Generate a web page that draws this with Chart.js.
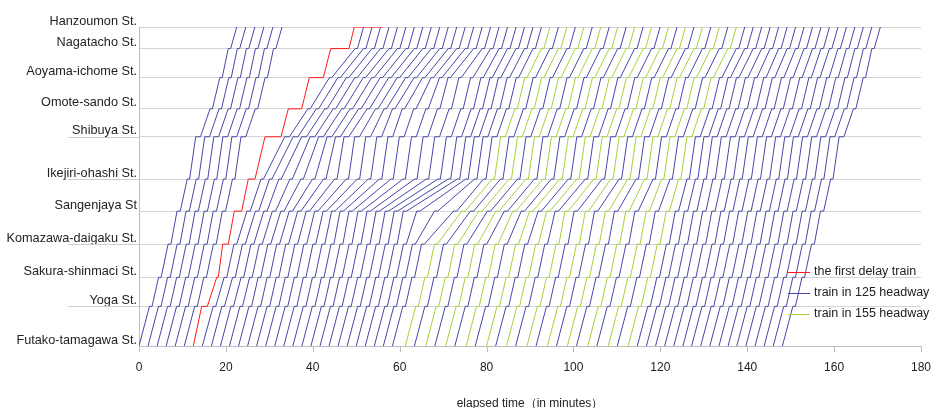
<!DOCTYPE html>
<html>
<head>
<meta charset="utf-8">
<script src="https://cdn.jsdelivr.net/npm/chart.js@4.4.1/dist/chart.umd.min.js"></script>
<style>
  html, body { margin: 0; padding: 0; background: #fff; }
  #wrap { width: 931px; height: 408px; }
</style>
</head>
<body>
<div id="wrap"><canvas id="diagram"></canvas></div>
<script>
// stations from the bottom of the diagram to the top, with distance in km
const stations = ['Futako-tamagawa St.', 'Yoga St.', 'Sakura-shinmaci St.', 'Komazawa-daigaku St.',
  'Sangenjaya St', 'Ikejiri-ohashi St.', 'Shibuya St.', 'Omote-sando St.', 'Aoyama-ichome St.',
  'Nagatacho St.', 'Hanzoumon St.'];
const stationKm = [0, 1.8, 3.12, 4.63, 6.13, 7.59, 9.51, 10.78, 12.2, 13.52, 14.5];
const longTickStations = ['Yoga St.', 'Komazawa-daigaku St.', 'Ikejiri-ohashi St.', 'Shibuya St.'];

// normal running time into each station and dwell time at it (minutes)
const runMin = [0, 2.4, 1.5, 1.6, 1.4, 1.6, 1.4, 2.2, 1.7, 1.4, 1.4];
const dwellMin = [0, 0.6, 0.6, 0.65, 0.75, 0.55, 1.1, 0.55, 0.55, 0.55, 0];
// shortest time between one train leaving a station and the next one arriving
const minGap = [0, 1.35, 1.35, 1.3, 1.2, 1.4, 0.85, 1.4, 1.4, 1.4, 1.95];

// departures from Futako-tamagawa (minutes) and kind of each train
const departures = [0, 2.08, 4.17, 6.25, 8.33, 10.42, 12.5, 14.58, 16.67, 18.75, 20.83, 22.92,
  25.0, 27.08, 29.17, 31.25, 33.33, 35.42, 37.5, 39.58, 41.67, 43.75, 45.83, 47.92, 50.0, 52.08,
  54.17, 56.25, 58.33, 61.3, 63.4, 66.0, 68.1, 70.6, 72.7, 75.3, 77.4, 80.0, 82.1, 84.6,
  86.7, 89.3, 91.4, 94.0, 96.1, 98.6, 100.7, 103.3, 105.4, 108.0, 110.1, 112.6, 114.7,
  116.8, 118.9, 121.0, 123.1, 125.2, 127.2, 129.3, 131.4, 133.5, 135.6, 137.6, 139.7,
  141.8, 143.9, 146.0, 148.1];
const trainKind = ['b', 'b', 'b', 'b', 'b', 'b', 'r', 'b', 'b', 'b', 'b', 'b',
  'b', 'b', 'b', 'b', 'b', 'b', 'b', 'b', 'b', 'b', 'b', 'b', 'b', 'b',
  'b', 'b', 'b', 'g', 'b', 'g', 'b', 'g', 'b', 'g', 'b', 'g', 'b', 'g',
  'b', 'g', 'b', 'g', 'b', 'g', 'b', 'g', 'b', 'g', 'b', 'g', 'b',
  'b', 'b', 'b', 'b', 'b', 'b', 'b', 'b', 'b', 'b', 'b', 'b',
  'b', 'b', 'b', 'b'];
// extra minutes spent crawling into Sangenjaya and into Ikejiri-ohashi, per train
const holdKomazawa = [0, 0, 0, 0, 0, 0, 0, 0, 0, 0, 0, 0,
  0, 0, 0, 0, 0, 0, 0, 0, 0, 0, 0, 0, 0, 0,
  1.0, 3.0, 5.3, 3.6, 3.4, 2.8, 2.0, 1.2, 0.5, 0, 0, 0, 0, 0,
  0, 0, 0, 0, 0, 0, 0, 0, 0, 0, 0, 0, 0,
  0, 0, 0, 0, 0, 0, 0, 0, 0, 0, 0, 0, 0, 0, 0, 0];
const holdSangenjaya = [0, 0, 0, 0, 0, 0, 0, 0, 0.5, 1.1, 1.7, 2.3,
  3.0, 3.6, 4.2, 4.9, 5.5, 6.1, 6.7, 7.3, 8.0, 8.6, 9.2, 9.8, 10.1, 10.1,
  8.9, 6.9, 4.6, 0, 0, 0, 0, 0, 0, 0, 0, 0, 0, 0,
  0, 0, 0, 0, 0, 0, 0, 0, 0, 0, 0, 0, 0,
  0, 0, 0, 0, 0, 0, 0, 0, 0, 0, 0, 0, 0, 0, 0, 0];

// the first delay train, read station by station
const redArrive = [12.5, 14.43, 17.89, 19.27, 21.94, 25.16, 29.0, 34.37, 39.2, 44.13, 49.56];
const redDepart = [12.5, 15.72, 18.25, 20.56, 23.64, 26.7, 32.69, 37.45, 42.43, 48.34, 56.2];

const xTicks = [0, 20, 40, 60, 80, 100, 120, 140, 160, 180];
const legendLabels = ['the first delay train', 'train in 125 headway', 'train in 155 headway'];
const kindColor = { r: '#ff1a1a', b: '#4646a8', g: '#a6d23c' };

function buildTrains() {
  const out = [];
  const last = stations.length - 1;
  const sangenjaya = stations.indexOf('Sangenjaya St');
  const ikejiri = stations.indexOf('Ikejiri-ohashi St.');
  let prev = null;
  departures.forEach((t0, i) => {
    const kind = trainKind[i];
    let arr = [], dep = [];
    if (kind === 'r') {
      arr = redArrive.slice();
      dep = redDepart.slice();
      dep[last] = arr[last];
    } else {
      arr[0] = t0; dep[0] = t0;
      for (let s = 1; s <= last; s++) {
        let a = dep[s - 1] + runMin[s];
        if (s === sangenjaya) a += holdKomazawa[i];
        if (s === ikejiri) a += holdSangenjaya[i];
        if (prev) a = Math.max(a, (s === last ? prev.arr[s] : prev.dep[s]) + minGap[s]);
        arr[s] = a;
        dep[s] = s < last ? a + dwellMin[s] : a;
      }
    }
    const pts = [{ x: dep[0], y: stationKm[0] }];
    for (let s = 1; s <= last; s++) {
      pts.push({ x: arr[s], y: stationKm[s] });
      if (s < last) pts.push({ x: dep[s], y: stationKm[s] });
    }
    if (kind === 'r') pts.push({ x: redDepart[last], y: stationKm[last] });
    out.push({ kind, pts });
    prev = { arr, dep };
  });
  return out;
}

const trains = buildTrains();
const datasets = trains.map(t => ({
  label: t.kind,
  data: t.pts,
  borderColor: kindColor[t.kind],
  borderWidth: 1,
  pointRadius: 0,
  fill: false,
  tension: 0,
  order: t.kind === 'r' ? 0 : 1
}));

const extraPlugin = {
  id: 'extra',
  beforeDatasetsDraw(chart) {
    const ctx = chart.ctx, x = chart.scales.x, y = chart.scales.y, area = chart.chartArea;
    ctx.save();
    ctx.strokeStyle = '#cfcfcf';
    ctx.lineWidth = 1;
    longTickStations.forEach(name => {
      const py = Math.round(y.getPixelForValue(stationKm[stations.indexOf(name)])) + 0.5;
      ctx.beginPath();
      ctx.moveTo(68, py);
      ctx.lineTo(area.left, py);
      ctx.stroke();
    });
    // short tick marks below the time axis
    ctx.strokeStyle = '#bdbdbd';
    xTicks.forEach(v => {
      const px = Math.round(x.getPixelForValue(v)) + 0.5;
      ctx.beginPath();
      ctx.moveTo(px, area.bottom);
      ctx.lineTo(px, area.bottom + 6);
      ctx.stroke();
    });
    ctx.restore();
  },
  afterDraw(chart) {
    const ctx = chart.ctx;
    const colors = [kindColor.r, kindColor.b, kindColor.g];
    ctx.save();
    ctx.font = '12.5px "Liberation Sans", Arial, sans-serif';
    ctx.textBaseline = 'middle';
    legendLabels.forEach((txt, i) => {
      const py = 272 + i * 21;
      ctx.strokeStyle = colors[i];
      ctx.lineWidth = 1;
      ctx.beginPath();
      ctx.moveTo(788, py + 0.5);
      ctx.lineTo(810, py + 0.5);
      ctx.stroke();
      ctx.fillStyle = '#222';
      ctx.fillText(txt, 814, py);
    });
    ctx.restore();
  }
};

new Chart(document.getElementById('diagram'), {
  type: 'line',
  data: { datasets },
  options: {
    responsive: true,
    maintainAspectRatio: false,
    animation: false,
    parsing: false,
    layout: { padding: { top: 27, right: 0, left: 0, bottom: 0 } },
    plugins: { legend: { display: false }, tooltip: { enabled: false } },
    scales: {
      x: {
        type: 'linear',
        min: 0,
        max: 180,
        afterBuildTicks: s => { s.ticks = xTicks.map(v => ({ value: v })); },
        afterFit: s => { s.height = 62; },
        ticks: { color: '#222', font: { size: 12, family: '"Liberation Sans", Arial, sans-serif' }, padding: 0, maxRotation: 0 },
        grid: { drawOnChartArea: false, drawTicks: true, tickLength: 14, tickColor: 'rgba(0,0,0,0)' },
        border: { color: '#bdbdbd' },
        title: {
          display: true,
          text: 'elapsed time（in minutes）',
          color: '#222',
          font: { size: 12, family: '"Liberation Sans", Arial, sans-serif' },
          padding: { top: 25, bottom: -3 }
        }
      },
      y: {
        type: 'linear',
        min: 0,
        max: 14.5,
        afterBuildTicks: s => { s.ticks = stationKm.map(v => ({ value: v })); },
        afterFit: s => { s.width = 139; },
        ticks: {
          color: '#222',
          font: { size: 12.7, family: '"Liberation Sans", Arial, sans-serif' },
          padding: 2,
          labelOffset: -6,
          autoSkip: false,
          callback: (v, i) => stations[i]
        },
        grid: { color: '#d4d4d4', drawTicks: false },
        border: { color: '#bdbdbd' }
      }
    }
  },
  plugins: [extraPlugin]
});
</script>
</body>
</html>
